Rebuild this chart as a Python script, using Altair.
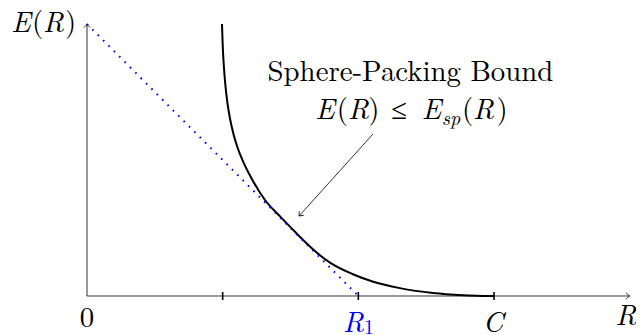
import altair as alt
import pandas as pd

# ---- data (x = rate R, y = exponent E(R)) ----
curve_R = [0.995, 1.000, 1.008, 1.020, 1.035, 1.055, 1.08, 1.11, 1.15, 1.21,
           1.312, 1.423, 1.533, 1.60, 1.68, 1.791, 1.96, 2.11, 2.307, 2.55, 2.771, 3.0]
curve_E = [2.0, 1.85, 1.70, 1.55, 1.42, 1.30, 1.19, 1.09, 0.99, 0.87,
           0.706, 0.585, 0.472, 0.405, 0.330, 0.245, 0.160, 0.105, 0.058, 0.022, 0.006, 0.0]

tangent_R = [0.0, 2.0]
tangent_E = [2.0, 0.0]

tick_R = [1.0, 2.0, 3.0]

axis_end_R = 4.0
axis_end_E = 2.0

arrow_from = (2.108, 1.191)
arrow_to = (1.563, 0.588)

# text pieces (italic, upright, small) -------------------------------
it_text = ["E", "R", "E", "R", "E", "R", "R", "C"]
it_x = [-0.4865, -0.2469, 1.754, 2.001, 2.539, 2.923, 3.973, 2.993]
it_y = [1.941, 1.941, 1.301, 1.301, 1.301, 1.301, -0.213, -0.265]

up_text = ["(", ")", "Sphere-Packing Bound", "(", ")", "≤", "(", ")", "0"]
up_x = [-0.3649, -0.1216, 2.384, 1.883, 2.115, 2.300, 2.805, 3.059, 0.0]
up_y = [1.941, 1.941, 1.581, 1.301, 1.301, 1.301, 1.301, 1.301, -0.228]

sub_text = ["sp"]
sub_x = [2.683]
sub_y = [1.257]

blue_it_text = ["R"]
blue_it_x = [1.964]
blue_it_y = [-0.265]

blue_sub_text = ["1"]
blue_sub_x = [2.079]
blue_sub_y = [-0.279]

# ---- scales: fixed pixel mapping ----
XD = [-0.5823, 4.0466]
YD = [-0.2868, 2.1176]
W, H = 628, 327
xs = alt.Scale(domain=XD, nice=False, zero=False, padding=0)
ys = alt.Scale(domain=YD, nice=False, zero=False, padding=0)
FONT = "Latin Modern Roman"
BIG, SMALL = 28.8, 20


def X(f="x"):
    return alt.X(f"{f}:Q", scale=xs, axis=None)


def Y(f="y"):
    return alt.Y(f"{f}:Q", scale=ys, axis=None)


axes_df = pd.DataFrame({
    "x": [0.0, 0.0], "y": [0.0, 0.0],
    "x2": [axis_end_R, 0.0], "y2": [0.0, axis_end_E],
})
axes = alt.Chart(axes_df).mark_rule(color="#000000", strokeWidth=0.8).encode(
    x=X(), y=Y(), x2="x2:Q", y2="y2:Q")

ticks_df = pd.DataFrame({"x": tick_R, "y": [0.0] * len(tick_R)})
ticks = alt.Chart(ticks_df).mark_point(
    shape="M0,-1L0,1", size=64, color="#000000", strokeWidth=1.6, filled=False, opacity=1
).encode(x=X(), y=Y())

heads_df = pd.DataFrame({
    "x": [axis_end_R, 0.0, arrow_to[0]],
    "y": [0.0, axis_end_E, arrow_to[1]],
    "a": [0, 270, 132],
})
heads = alt.Chart(heads_df).mark_point(
    shape="M-1.3,-1.1Q-0.5,-0.3 0,0Q-0.5,0.3 -1.3,1.1", size=30, color="#000000",
    strokeWidth=0.8, filled=False, opacity=1
).encode(x=X(), y=Y(), angle=alt.Angle("a:Q", scale=None))

curve_df = pd.DataFrame({"x": curve_R, "y": curve_E})
curve = alt.Chart(curve_df).mark_line(
    color="#000000", strokeWidth=2, interpolate="monotone"
).encode(x=X(), y=Y(), order="x:Q")

tan_df = pd.DataFrame({"x": tangent_R, "y": tangent_E})
tangent = alt.Chart(tan_df).mark_line(
    color="#0000ff", strokeWidth=2, strokeDash=[1.6, 6], strokeCap="butt"
).encode(x=X(), y=Y())

arr_df = pd.DataFrame({"x": [arrow_from[0]], "y": [arrow_from[1]],
                       "x2": [arrow_to[0]], "y2": [arrow_to[1]]})
arrow = alt.Chart(arr_df).mark_rule(color="#000000", strokeWidth=0.8).encode(
    x=X(), y=Y(), x2="x2:Q", y2="y2:Q")


def texts(t, x, y, size, italic, color):
    df = pd.DataFrame({"t": t, "x": x, "y": y})
    kw = dict(font=FONT, fontSize=size, color=color, align="center", baseline="alphabetic")
    if italic:
        kw["fontStyle"] = "italic"
    return alt.Chart(df).mark_text(**kw).encode(x=X(), y=Y(), text="t:N")


layers = [
    axes, ticks, heads, curve, tangent, arrow,
    texts(it_text, it_x, it_y, BIG, True, "#000000"),
    texts(up_text, up_x, up_y, BIG, False, "#000000"),
    texts(sub_text, sub_x, sub_y, SMALL, True, "#000000"),
    texts(blue_it_text, blue_it_x, blue_it_y, BIG, True, "#0000ff"),
    texts(blue_sub_text, blue_sub_x, blue_sub_y, SMALL, False, "#0000ff"),
]

chart = alt.layer(*layers).properties(
    width=W, height=H, autosize=alt.AutoSizeParams(type="none"), padding=0,
    background="#ffffff"
).configure_view(stroke=None)

chart.save("out.html", embed_options={"renderer": "svg", "actions": False})
